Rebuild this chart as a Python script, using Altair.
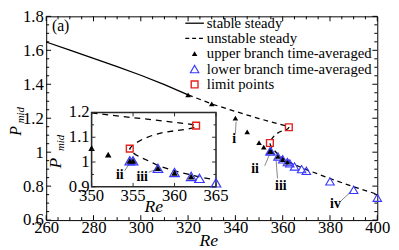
import altair as alt
import pandas as pd

FONT = "Liberation Serif"

# ---------------- data ----------------
stable_re = [260, 270, 280, 290, 300, 310, 320]
stable_p = [1.649, 1.601, 1.553, 1.504, 1.453, 1.398, 1.338]

unstable_re = [320, 330, 340, 350, 355, 358, 360.6, 361.8, 362.4, 362.6,
               362.3, 361.5, 360.0, 358.6, 357.2, 356.2, 355.4, 354.9, 354.6,
               354.8, 355.3, 356.0, 356.9, 358, 360, 362, 363, 365, 370, 380, 390, 400]
unstable_p = [1.338, 1.284, 1.240, 1.198, 1.179, 1.168, 1.158, 1.153, 1.150, 1.147,
              1.139, 1.132, 1.126, 1.119, 1.106, 1.093, 1.078, 1.066, 1.054,
              1.042, 1.030, 1.017, 1.004, 0.986, 0.964, 0.948, 0.940, 0.927, 0.897, 0.845, 0.796, 0.752]

upper_re = [320, 330, 340, 345, 350, 352, 354.6, 355, 358, 360, 362]
upper_p = [1.338, 1.284, 1.200, 1.120, 1.056, 1.030, 1.005, 1.005, 0.975, 0.956, 0.941]

lower_re = [354.6, 355, 358, 360, 362, 363, 365, 368, 370, 380, 390, 400]
lower_p = [1.005, 1.005, 0.975, 0.958, 0.942, 0.934, 0.916, 0.900, 0.890, 0.828, 0.778, 0.732]

limit_re = [354.6, 362.6]
limit_p = [1.054, 1.147]

x_major = [260, 280, 300, 320, 340, 360, 380, 400]
x_minor = [v for v in range(265, 400, 5) if v % 20]
y_major = [0.6, 0.8, 1.0, 1.2, 1.4, 1.6, 1.8]
y_minor = [round(0.6 + 0.05 * k, 2) for k in range(1, 24) if k % 4]

inset_x_major = [350, 355, 360, 365]
inset_x_labels = ["350", "355", "360", "365"]
inset_y_major = [0.9, 1.0, 1.1, 1.2]
inset_y_labels = ["0.9", "1", "1.1", "1.2"]
inset_y_minor = [0.95, 1.05, 1.15]

main_notes = ["i", "ii", "iii", "iv"]
main_note_re = [339.5, 348.3, 359.2, 382.3]
main_note_p = [1.075, 0.900, 0.798, 0.695]
main_lead_re = [340.0, 352.4, 357.8, 384.4]
main_lead_p = [1.110, 0.920, 0.845, 0.710]
main_lead_re2 = [340.3, 354.4, 357.1, 389.1]
main_lead_p2 = [1.180, 0.985, 0.972, 0.770]

inset_notes = ["ii", "iii"]
inset_note_re = [353.4, 356.1]
inset_note_p = [0.946, 0.940]
inset_lead_re = [354.0, 356.9]
inset_lead_p = [0.965, 0.959]
inset_lead_re2 = [354.6, 358.1]
inset_lead_p2 = [0.997, 0.974]

legend_labels = ["stable steady", "unstable steady", "upper branch time-averaged",
                 "lower branch time-averaged", "limit points"]

# ---------------- layout ----------------
PAD_L, PAD_T, PAD_R, PAD_B = 39, 6, 14, 28
W, H = 338, 208
X_DOM = [260, 400]
Y_DOM = [0.6, 1.8]
TICK_FS = 17


def px_x(v):
    return (v - X_DOM[0]) / (X_DOM[1] - X_DOM[0]) * W


def px_y(v):
    return (Y_DOM[1] - v) / (Y_DOM[1] - Y_DOM[0]) * H


# inset box edges expressed in main-axis units
IX0, IX1 = px_x(279.2), px_x(331.8)
IY0, IY1 = px_y(0.796), px_y(1.234)


def ipx_y(v):
    return IY0 + (v - 0.9) / 0.3 * (IY1 - IY0)


xs = alt.Scale(domain=X_DOM, nice=False, zero=False)
ys = alt.Scale(domain=Y_DOM, nice=False, zero=False)
ixs = alt.Scale(domain=[350, 365], range=[IX0, IX1], nice=False, zero=False)
iys = alt.Scale(domain=[0.9, 1.2], range=[IY0, IY1], nice=False, zero=False)

common_axis = dict(labelFont=FONT, labelFontSize=TICK_FS, labelColor="black", ticks=False,
                   tickSize=0, domain=False, grid=False, labelFlush=False, labelOverlap=False)
x_axis = alt.Axis(values=x_major, format="d", labelPadding=0, title=None, **common_axis)
y_axis = alt.Axis(values=y_major, format="~g", labelPadding=3, title=None, **common_axis)


def MX(f="Re"):
    return alt.X(f"{f}:Q", scale=xs, axis=x_axis)


def MY(f="P"):
    return alt.Y(f"{f}:Q", scale=ys, axis=y_axis)


def IXe(f="Re"):
    return alt.X(f"{f}:Q", scale=ixs, axis=None)


def IYe(f="P"):
    return alt.Y(f"{f}:Q", scale=iys, axis=None)


df_stable = pd.DataFrame({"Re": stable_re, "P": stable_p})
df_unst = pd.DataFrame({"Re": unstable_re, "P": unstable_p, "i": list(range(len(unstable_re)))})
df_upper = pd.DataFrame({"Re": upper_re, "P": upper_p})
df_lower = pd.DataFrame({"Re": lower_re, "P": lower_p})
df_limit = pd.DataFrame({"Re": limit_re, "P": limit_p})

BLUE = "#3636ff"
RED = "#e3211c"

# ---------------- main panel ----------------
main_layers = []
main_layers.append(alt.Chart(df_stable).mark_line(color="black", strokeWidth=1.3)
                   .encode(x=MX(), y=MY()))
main_layers.append(alt.Chart(df_unst).mark_line(color="black", strokeWidth=1.3, strokeDash=[5, 4])
                   .encode(x=MX(), y=MY(), order=alt.Order("i:Q")))
df_ml = pd.DataFrame({"Re": main_lead_re, "P": main_lead_p, "Re2": main_lead_re2, "P2": main_lead_p2})
main_layers.append(alt.Chart(df_ml).mark_rule(color="#666666", strokeWidth=0.8)
                   .encode(x=MX(), y=MY(), x2=alt.X2("Re2:Q"), y2=alt.Y2("P2:Q")))
main_layers.append(alt.Chart(df_lower).mark_point(shape="triangle-up", filled=False, color=BLUE,
                                                  size=75, strokeWidth=1.1, opacity=1)
                   .encode(x=MX(), y=MY()))
main_layers.append(alt.Chart(df_upper).mark_point(shape="triangle-up", filled=True, color="black",
                                                  size=32, opacity=1)
                   .encode(x=MX(), y=MY()))
main_layers.append(alt.Chart(df_limit).mark_point(shape="square", filled=False, color=RED,
                                                  size=48, strokeWidth=1.4, opacity=1)
                   .encode(x=MX(), y=MY()))
df_mn = pd.DataFrame({"Re": main_note_re, "P": main_note_p, "t": main_notes})
main_layers.append(alt.Chart(df_mn).mark_text(font=FONT, fontSize=14, fontWeight="bold",
                                              baseline="middle")
                   .encode(x=MX(), y=MY(), text="t:N"))

# inward ticks on all four sides
for vals, ln in [(x_major, 5), (x_minor, 3)]:
    d = pd.DataFrame({"Re": vals})
    b = alt.Chart(d).mark_rule(color="black", strokeWidth=1)
    main_layers.append(b.encode(x=MX(), y=alt.value(H), y2=alt.value(H - ln)))
    main_layers.append(b.encode(x=MX(), y=alt.value(0), y2=alt.value(ln)))
for vals, ln in [(y_major, 5), (y_minor, 3)]:
    d = pd.DataFrame({"P": vals})
    b = alt.Chart(d).mark_rule(color="black", strokeWidth=1)
    main_layers.append(b.encode(y=MY(), x=alt.value(0), x2=alt.value(ln)))
    main_layers.append(b.encode(y=MY(), x=alt.value(W), x2=alt.value(W - ln)))


def label(text, x, y, size, style="normal", angle=0, align="center", weight="normal"):
    d = pd.DataFrame({"t": [text]})
    kw = dict(font=FONT, fontSize=size, fontStyle=style, align=align, baseline="middle",
              fontWeight=weight, color="black")
    if angle:
        kw["angle"] = angle
    return alt.Chart(d).mark_text(**kw).encode(x=alt.value(x), y=alt.value(y), text="t:N")


# axis titles and panel tag
main_layers.append(label("Re", W / 2 - 3, H + 21, 18, style="italic"))
main_layers.append(label("P", -30.5, 117, 16, style="italic", angle=270))
main_layers.append(label("mid", -26, 101, 11, style="italic", angle=270))
main_layers.append(label("(a)", 14.7, 10, 16))

# legend
LX_LINE0, LX_LINE1, LX_SYM, LX_TEXT = 142, 161, 151.5, 164
legend_rows = [7, 22.5, 38, 53.8, 69.5]
one = pd.DataFrame({"a": [0]})
main_layers.append(alt.Chart(one).mark_rule(color="black", strokeWidth=1.3)
                   .encode(x=alt.value(LX_LINE0), x2=alt.value(LX_LINE1), y=alt.value(legend_rows[0])))
main_layers.append(alt.Chart(one).mark_rule(color="black", strokeWidth=1.3, strokeDash=[4, 3])
                   .encode(x=alt.value(LX_LINE0), x2=alt.value(LX_LINE1), y=alt.value(legend_rows[1])))
main_layers.append(alt.Chart(one).mark_point(shape="triangle-up", filled=True, color="black",
                                             size=32, opacity=1)
                   .encode(x=alt.value(LX_SYM), y=alt.value(legend_rows[2])))
main_layers.append(alt.Chart(one).mark_point(shape="triangle-up", filled=False, color=BLUE,
                                             size=75, strokeWidth=1.1, opacity=1)
                   .encode(x=alt.value(LX_SYM), y=alt.value(legend_rows[3])))
main_layers.append(alt.Chart(one).mark_point(shape="square", filled=False, color=RED,
                                             size=48, strokeWidth=1.4, opacity=1)
                   .encode(x=alt.value(LX_SYM), y=alt.value(legend_rows[4])))
for txt, yy in zip(legend_labels, legend_rows):
    main_layers.append(label(txt, LX_TEXT, yy, 15, align="left"))

main = alt.layer(*main_layers)

# ---------------- inset panel ----------------
ins = []
df_frame = pd.DataFrame({"Re": [350], "Re2": [365], "P": [0.9], "P2": [1.2]})
ins.append(alt.Chart(df_frame).mark_rect(fill="white", stroke="#2a2a2a", strokeWidth=1.6)
           .encode(x=IXe(), x2=alt.X2("Re2:Q"), y=IYe(), y2=alt.Y2("P2:Q")))
ins.append(alt.Chart(df_unst).transform_filter("datum.Re >= 350 && datum.Re <= 365")
           .mark_line(color="black", strokeWidth=1.3, strokeDash=[6, 5])
           .encode(x=IXe(), y=IYe(), order=alt.Order("i:Q")))
df_il = pd.DataFrame({"Re": inset_lead_re, "P": inset_lead_p, "Re2": inset_lead_re2, "P2": inset_lead_p2})
ins.append(alt.Chart(df_il).mark_rule(color="#666666", strokeWidth=0.8)
           .encode(x=IXe(), y=IYe(), x2=alt.X2("Re2:Q"), y2=alt.Y2("P2:Q")))
ins.append(alt.Chart(df_lower).transform_filter("datum.Re >= 350 && datum.Re <= 365")
           .mark_point(shape="triangle-up", filled=False, color=BLUE, size=95, strokeWidth=1.2, opacity=1)
           .encode(x=IXe(), y=IYe()))
ins.append(alt.Chart(df_upper).transform_filter("datum.Re >= 350 && datum.Re <= 365")
           .mark_point(shape="triangle-up", filled=True, color="black", size=45, opacity=1)
           .encode(x=IXe(), y=IYe()))
ins.append(alt.Chart(df_limit).mark_point(shape="square", filled=False, color=RED,
                                          size=48, strokeWidth=1.4, opacity=1)
           .encode(x=IXe(), y=IYe()))
df_in = pd.DataFrame({"Re": inset_note_re, "P": inset_note_p, "t": inset_notes})
ins.append(alt.Chart(df_in).mark_text(font=FONT, fontSize=14, fontWeight="bold", baseline="middle")
           .encode(x=IXe(), y=IYe(), text="t:N"))

# inset ticks
d = pd.DataFrame({"Re": inset_x_major})
ins.append(alt.Chart(d).transform_calculate(P="0.9", P2="0.9")
           .mark_rule(color="#2a2a2a", strokeWidth=1, y2Offset=-4)
           .encode(x=IXe(), y=IYe(), y2=alt.Y2("P2:Q")))
ins.append(alt.Chart(d).transform_calculate(P="1.2", P2="1.2")
           .mark_rule(color="#2a2a2a", strokeWidth=1, y2Offset=4)
           .encode(x=IXe(), y=IYe(), y2=alt.Y2("P2:Q")))
for vals, ln in [(inset_y_major, 4), (inset_y_minor, 2.5)]:
    d = pd.DataFrame({"P": vals})
    ins.append(alt.Chart(d).transform_calculate(Re="350", Re2="350")
               .mark_rule(color="#2a2a2a", strokeWidth=1, x2Offset=ln)
               .encode(y=IYe(), x=IXe(), x2=alt.X2("Re2:Q")))
    ins.append(alt.Chart(d).transform_calculate(Re="365", Re2="365")
               .mark_rule(color="#2a2a2a", strokeWidth=1, x2Offset=-ln)
               .encode(y=IYe(), x=IXe(), x2=alt.X2("Re2:Q")))

# inset tick labels
d = pd.DataFrame({"Re": inset_x_major, "lab": inset_x_labels})
ins.append(alt.Chart(d).transform_calculate(P="0.9")
           .mark_text(font=FONT, fontSize=TICK_FS, baseline="middle", dy=9)
           .encode(x=IXe(), y=IYe(), text="lab:N"))
d = pd.DataFrame({"P": inset_y_major, "lab": inset_y_labels})
ins.append(alt.Chart(d).transform_calculate(Re="350")
           .mark_text(font=FONT, fontSize=TICK_FS, baseline="middle", align="right", dx=-2)
           .encode(x=IXe(), y=IYe(), text="lab:N"))

# inset titles
ins.append(label("Re", (IX0 + IX1) / 2, IY0 + 21, 18, style="italic"))
ins.append(label("P", IX0 - 36, ipx_y(0.996), 18, style="italic", angle=270))
ins.append(label("mid", IX0 - 31.5, ipx_y(1.077), 11, style="italic", angle=270))

inset = alt.layer(*ins)

chart = (
    alt.layer(main, inset)
    .resolve_scale(x="independent", y="independent")
    .properties(width=W, height=H,
                autosize=alt.AutoSizeParams(type="none"),
                padding={"left": PAD_L, "top": PAD_T, "right": PAD_R, "bottom": PAD_B},
                background="white")
    .configure_view(stroke="black", strokeWidth=1)
)

chart.save("out.html", embed_options={"renderer": "svg", "actions": False})
